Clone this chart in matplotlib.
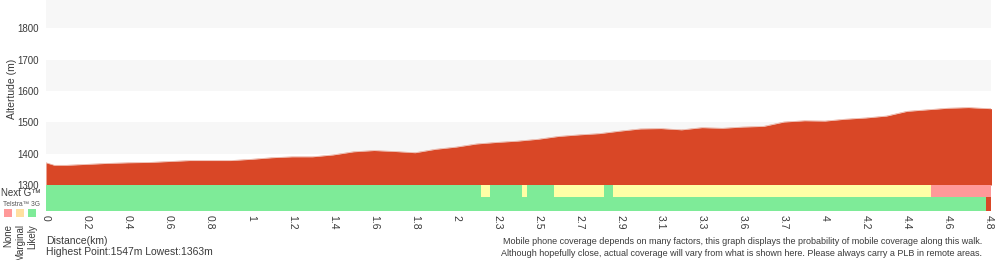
import matplotlib.pyplot as plt
from matplotlib.patches import Rectangle

plt.rcParams['font.family'] = ['Liberation Sans', 'DejaVu Sans']

# elevation profile, sampled every 5 points along the walk
sample_idx = [0, 2, 5, 10, 15, 20, 25, 30, 35, 40, 45, 50, 55, 60, 65, 70, 75, 80, 85, 90,
              95, 100, 105, 110, 115, 120, 125, 130, 135, 140, 145, 150, 155, 160, 165, 170,
              175, 180, 185, 190, 195, 200, 205, 210, 215, 220, 225, 231]
altitude = [1371, 1363, 1363, 1366, 1369, 1371, 1372, 1375, 1378, 1378, 1378, 1382, 1387,
            1390, 1390, 1396, 1406, 1410, 1407, 1403, 1414, 1421, 1431, 1436, 1440, 1446,
            1455, 1460, 1464, 1472, 1479, 1480, 1476, 1483, 1481, 1485, 1487, 1501, 1505,
            1504, 1510, 1514, 1520, 1535, 1540, 1545, 1547, 1543]

# distance labels, one every 10 samples
km_labels = ["0", "0.2", "0.4", "0.6", "0.8", "1", "1.2", "1.4", "1.6", "1.8", "2", "2.3",
             "2.5", "2.7", "2.9", "3.1", "3.3", "3.6", "3.7", "4", "4.2", "4.4", "4.6", "4.8"]

# coverage runs (start sample, end sample, level)
nextg_start = [0, 106.1, 108.3, 116.1, 117.3, 123.9, 136.1, 138.3, 215.9]
nextg_end = [106.1, 108.3, 116.1, 117.3, 123.9, 136.1, 138.3, 215.9, 230.5]
nextg_level = ["Likely", "Marginal", "Likely", "Marginal", "Likely", "Marginal", "Likely",
               "Marginal", "None"]
g3_start = [0]
g3_end = [229.3]
g3_level = ["Likely"]

colors = {"None": "#ff9999", "Marginal": "#ffffa6", "Likely": "#7eeb98"}
legend_colors = {"None": "#ff9999", "Marginal": "#ffe0a0", "Likely": "#7eeb98"}
red = "#d94726"
txt = "#3a3a3a"
xmax = 230.5

fig = plt.figure(figsize=(10, 2.6), dpi=100)
ax = fig.add_axes([0.046, 0.2885, 0.945, 0.7115])
cov = fig.add_axes([0.046, 0.1885, 0.945, 0.1])

# alternating background bands
for lo in [1400, 1600, 1800]:
    ax.axhspan(lo, lo + 100, color="#f7f7f7", zorder=0, lw=0)
ax.fill_between(sample_idx, 1300, altitude, color=red, lw=0, zorder=2)
ax.plot(sample_idx, altitude, color="#e49a88", lw=0.4, zorder=3)
ax.set_xlim(0, xmax)
ax.set_ylim(1300, 1890)
ax.set_yticks([1300, 1400, 1500, 1600, 1700, 1800])
ax.tick_params(axis="y", length=0, labelsize=7, pad=5, labelcolor=txt)
ax.set_xticks([])
ax.set_ylabel("Altertude (m)", fontsize=7.5, color=txt)
ax.yaxis.set_label_coords(-0.031, 0.52)
for s in ax.spines.values():
    s.set_visible(False)

# coverage rows
cov.set_facecolor(red)
cov.set_xlim(0, xmax)
cov.set_ylim(0, 26)
for a, b, lv in zip(nextg_start, nextg_end, nextg_level):
    cov.add_patch(Rectangle((a, 14), b - a, 12, color=colors[lv], lw=0))
for a, b, lv in zip(g3_start, g3_end, g3_level):
    cov.add_patch(Rectangle((a, 0), b - a, 14, color=colors[lv], lw=0))
cov.set_yticks([])
cov.set_xticks(range(0, 10 * len(km_labels), 10))
cov.set_xticklabels(km_labels, rotation=-90, fontsize=7.5, color=txt)
cov.tick_params(axis="x", length=0, pad=3)
for s in cov.spines.values():
    s.set_visible(False)

fig.text(0.001, 1 - 193.5 / 260, "Next G\u2122", fontsize=7, color=txt, va="center")
fig.text(0.003, 1 - 204 / 260, "Telstra\u2122 3G", fontsize=4.8, color="#555555", va="center")
for i, lv in enumerate(["None", "Marginal", "Likely"]):
    fig.patches.append(Rectangle((0.004 + i * 0.012, 1 - 217 / 260), 0.008, 8 / 260,
                                 transform=fig.transFigure, color=legend_colors[lv], lw=0))
    fig.text(0.008 + i * 0.012, 1 - 224 / 260, lv, rotation=90, fontsize=7,
             color=txt, ha="center", va="top")

fig.text(0.046, 1 - 241 / 260, "Distance(km)", fontsize=7.5, color=txt, va="center")
fig.text(0.046, 1 - 252 / 260, "Highest Point:1547m Lowest:1363m", fontsize=7.5,
         color=txt, va="center")
fig.text(0.982, 1 - 242 / 260,
         "Mobile phone coverage depends on many factors, this graph displays the probability of mobile coverage along this walk.",
         fontsize=6.5, color=txt, ha="right", va="center")
fig.text(0.982, 1 - 253 / 260,
         "Although hopefully close, actual coverage will vary from what is shown here. Please always carry a PLB in remote areas.",
         fontsize=6.5, color=txt, ha="right", va="center")

fig.savefig("out.png", dpi=100)
